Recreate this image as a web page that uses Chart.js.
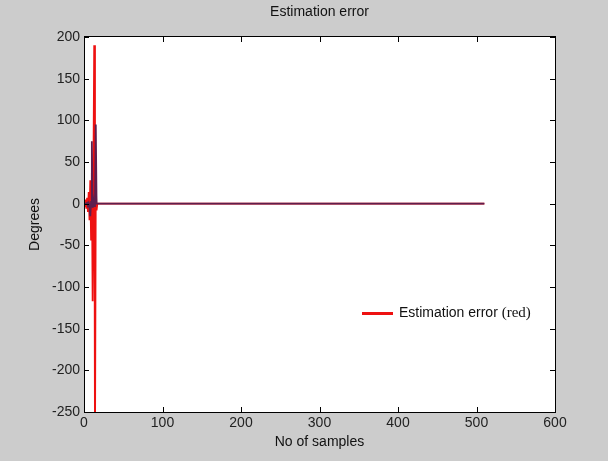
<!DOCTYPE html>
<html>
<head>
<meta charset="utf-8">
<script src="https://cdn.jsdelivr.net/npm/chart.js@4/dist/chart.umd.min.js"></script>
<style>
  html, body { margin: 0; padding: 0; background: #cccccc; }
  #wrap { width: 608px; height: 461px; }
</style>
</head>
<body>
<div id="wrap"><canvas id="c" width="608" height="461"></canvas></div>
<script>
// ---- data ----
const chartTitle = 'Estimation error';
const xAxisTitle = 'No of samples';
const yAxisTitle = 'Degrees';
const legendMain = 'Estimation error';
const legendNote = '(red)';

const xTicks = [0, 100, 200, 300, 400, 500, 600];
const yTicks = [-250, -200, -150, -100, -50, 0, 50, 100, 150, 200];

// red series: estimation error (samples and values)
const redSamples = [1, 2, 3, 4, 5, 6, 7, 8, 9, 10, 11, 12, 13, 14, 15, 16, 17, 510];
const redValues  = [-4, 5, -6, 7, -10, 14, -20, 28, -43, 37, -117, 35, 190, -300, 22, -8, 0, 0];

// purple series
const purpleSamples = [1, 2, 3, 4, 5, 6, 7, 8, 9, 10, 11, 12, 13, 14, 15, 16, 510];
const purpleValues  = [0, 0, 0, 1, -1, 1, -2, -15, 2, 75, -5, 4, -3, 5, 95, 0, 0];

function toPoints(xs, ys) { return xs.map((x, i) => ({ x: x, y: ys[i] })); }

const FONT = 'Liberation Sans';
const PLOT_LEFT = 84, PLOT_TOP = 37, PLOT_RIGHT = 555, PLOT_BOTTOM = 412;

const framePlugin = {
  id: 'frame',
  beforeDraw(chart) {
    const { ctx, chartArea: a } = chart;
    ctx.save();
    ctx.fillStyle = '#cccccc';
    ctx.fillRect(0, 0, chart.width, chart.height);
    ctx.fillStyle = '#ffffff';
    ctx.fillRect(a.left, a.top, a.right - a.left, a.bottom - a.top);
    ctx.restore();
  },
  afterDraw(chart) {
    const { ctx, chartArea: a, scales } = chart;
    ctx.save();
    // inward ticks
    ctx.strokeStyle = '#000';
    ctx.lineWidth = 1;
    const tl = 5;
    ctx.beginPath();
    xTicks.forEach(v => {
      const px = Math.round(scales.x.getPixelForValue(v)) + 0.5;
      ctx.moveTo(px, a.bottom); ctx.lineTo(px, a.bottom - tl);
      ctx.moveTo(px, a.top); ctx.lineTo(px, a.top + tl);
    });
    yTicks.forEach(v => {
      const py = Math.round(scales.y.getPixelForValue(v)) + 0.5;
      ctx.moveTo(a.left, py); ctx.lineTo(a.left + tl, py);
      ctx.moveTo(a.right, py); ctx.lineTo(a.right - tl, py);
    });
    ctx.stroke();
    // box
    ctx.strokeRect(Math.round(a.left) + 0.5, Math.round(a.top) - 0.5,
                   Math.round(a.right - a.left), Math.round(a.bottom - a.top) + 1);
    // title
    ctx.fillStyle = '#111';
    ctx.font = '14px "' + FONT + '"';
    ctx.textAlign = 'center';
    ctx.textBaseline = 'middle';
    ctx.fillText(chartTitle, (a.left + a.right) / 2, 12);
    // legend (inside plot area)
    const ly = Math.round(scales.y.getPixelForValue(-131)) + 0.5;
    const lineStart = 362, lineEnd = 393;
    ctx.strokeStyle = '#ee1111';
    ctx.lineWidth = 3;
    ctx.beginPath();
    ctx.moveTo(lineStart, ly); ctx.lineTo(lineEnd, ly);
    ctx.stroke();
    ctx.fillStyle = '#111';
    ctx.textAlign = 'left';
    ctx.font = '14px "' + FONT + '"';
    ctx.fillText(legendMain, 399, ly);
    const w = ctx.measureText(legendMain + ' ').width;
    ctx.font = '15px "Liberation Serif"';
    ctx.fillText(legendNote, 399 + w, ly);
    ctx.restore();
  }
};

const chart = new Chart(document.getElementById('c'), {
  type: 'line',
  data: {
    datasets: [
      {
        label: 'Purple',
        data: toPoints(purpleSamples, purpleValues),
        borderColor: '#5e1e4e',
        borderWidth: 1.8,
        pointRadius: 0,
        tension: 0,
        clip: 0,
        order: 0
      },
      {
        label: legendMain,
        data: toPoints(redSamples, redValues),
        borderColor: '#ee1111',
        borderWidth: 1.8,
        pointRadius: 0,
        tension: 0,
        clip: 0,
        order: 1
      }
    ]
  },
  options: {
    responsive: false,
    animation: false,
    events: [],
    layout: { padding: { top: PLOT_TOP, right: 608 - PLOT_RIGHT, bottom: 0, left: 0 } },
    plugins: {
      legend: { display: false },
      title: { display: false },
      tooltip: { enabled: false }
    },
    scales: {
      x: {
        type: 'linear',
        min: 0, max: 600,
        afterBuildTicks(s) { s.ticks = xTicks.map(v => ({ value: v })); },
        ticks: { color: '#222', font: { family: FONT, size: 14 }, padding: 3, maxRotation: 0, autoSkip: false },
        grid: { display: false, drawTicks: false },
        border: { display: false },
        title: { display: true, text: xAxisTitle, color: '#111', font: { family: FONT, size: 14 }, padding: { top: 0, bottom: 10 } },
        afterFit(s) { s.height = 461 - PLOT_BOTTOM; }
      },
      y: {
        type: 'linear',
        min: -250, max: 200,
        afterBuildTicks(s) { s.ticks = yTicks.map(v => ({ value: v })); },
        ticks: { color: '#222', font: { family: FONT, size: 14 }, padding: 4, autoSkip: false },
        grid: { display: false, drawTicks: false },
        border: { display: false },
        title: { display: true, text: yAxisTitle, color: '#111', font: { family: FONT, size: 14 }, padding: { top: 27, bottom: 0 } },
        afterFit(s) { s.width = PLOT_LEFT; }
      }
    }
  },
  plugins: [framePlugin]
});
</script>
</body>
</html>
